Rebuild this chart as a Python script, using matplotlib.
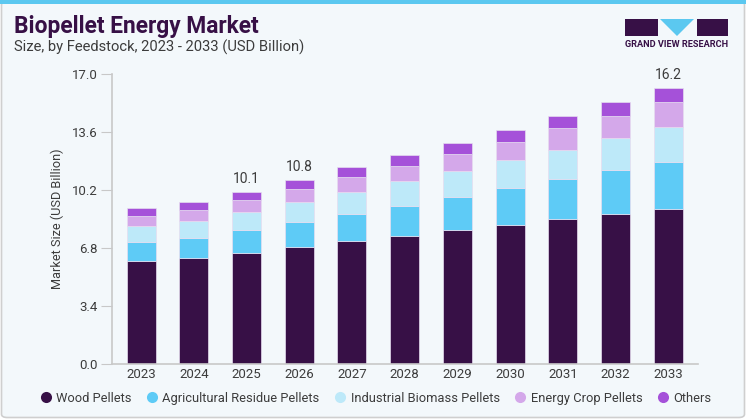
import numpy as np
import matplotlib.pyplot as plt
from matplotlib.patches import Rectangle, Polygon, FancyBboxPatch
from matplotlib.lines import Line2D

plt.rcParams['font.family'] = ['Roboto', 'DejaVu Sans']

# 数据
years = ['2023', '2024', '2025', '2026', '2027', '2028', '2029', '2030', '2031', '2032', '2033']
wood = [6.04, 6.20, 6.51, 6.84, 7.19, 7.53, 7.84, 8.17, 8.48, 8.81, 9.10]
agri = [1.11, 1.17, 1.33, 1.46, 1.62, 1.75, 1.94, 2.14, 2.34, 2.54, 2.77]
industrial = [0.96, 1.03, 1.07, 1.17, 1.27, 1.42, 1.52, 1.62, 1.75, 1.89, 2.01]
energy_crop = [0.59, 0.61, 0.70, 0.76, 0.87, 0.90, 1.02, 1.11, 1.25, 1.30, 1.46]
others = [0.44, 0.48, 0.49, 0.57, 0.57, 0.66, 0.65, 0.70, 0.74, 0.80, 0.84]
series_names = ['Wood Pellets', 'Agricultural Residue Pellets', 'Industrial Biomass Pellets',
                'Energy Crop Pellets', 'Others']
labelled = {'2025': '10.1', '2026': '10.8', '2033': '16.2'}
y_ticks = [0.0, 3.4, 6.8, 10.2, 13.6, 17.0]

colors = ['#371046', '#5ECBF6', '#BDE9F9', '#D4A8EA', '#A551D9']
bg = '#F3F8FB'
txt = '#3C3C3C'

W, H = 746, 419
fig = plt.figure(figsize=(W / 100, H / 100), dpi=100)
fig.patch.set_facecolor('white')


def px(x, y):
    # 像素坐标 -> figure 坐标
    return (x / W, 1 - y / H)


# 背景 + 边框
fig.patches.append(FancyBboxPatch((1.5 / W, 1.5 / H), (W - 3) / W, (H - 3) / H,
                                  boxstyle='round,pad=0,rounding_size=0.008',
                                  transform=fig.transFigure, facecolor=bg,
                                  edgecolor='#CFCFCF', linewidth=1.2, zorder=-10))
fig.patches.append(Rectangle((0, 1 - 4 / H), 1, 4 / H, transform=fig.transFigure,
                             facecolor='#5BC8F0', edgecolor='none', zorder=-9))

# 标题
fig.text(14 / W, 1 - 27 / H, 'Biopellet Energy Market', fontsize=16.4, fontweight='bold',
         color='#371046', va='center', ha='left')
fig.text(14 / W, 1 - 47 / H, 'Size, by Feedstock, 2023 - 2033 (USD Billion)', fontsize=10.6,
         color=txt, va='center', ha='left')

# logo
fig.patches.append(Rectangle(px(625, 36), 33 / W, 17 / H, transform=fig.transFigure,
                             facecolor='#371046', edgecolor='none'))
fig.patches.append(Rectangle(px(697, 36), 31 / W, 17 / H, transform=fig.transFigure,
                             facecolor='#371046', edgecolor='none'))
fig.patches.append(Polygon([px(660, 19), px(694, 19), px(677, 36)], closed=True,
                           transform=fig.transFigure, facecolor='#5BC8F0', edgecolor='none'))
fig.text(676.5 / W, 1 - 44.5 / H, 'GRAND VIEW RESEARCH', fontsize=6.6, fontweight='bold',
         color='#371046', ha='center', va='center')

# 图表区
ax = fig.add_axes([112 / W, 1 - 364 / H, (698 - 112) / W, (364 - 74) / H], zorder=2)
ax.set_facecolor('none')

x = np.arange(len(years))
bottom = np.zeros(len(years))
for name, vals, c in zip(series_names, [wood, agri, industrial, energy_crop, others], colors):
    ax.bar(x, vals, width=0.55, bottom=bottom, color=c, edgecolor='#E6DDF0',
           linewidth=0.5, label=name, zorder=2)
    bottom += np.array(vals)

for i, yr in enumerate(years):
    if yr in labelled:
        ax.annotate(labelled[yr], (x[i], bottom[i]), xytext=(0, 4), textcoords='offset points',
                    ha='center', va='bottom', fontsize=10, color=txt)

ax.set_xlim(-0.55, len(years) - 0.44)
ax.set_ylim(0, 17.0)
ax.set_xticks(x)
ax.set_xticklabels(years)
ax.set_yticks(y_ticks)
ax.set_yticklabels([f'{v:.1f}' for v in y_ticks])
ax.tick_params(axis='y', length=8, color='#C8C8C8', labelsize=9.5, labelcolor=txt, pad=2)
ax.tick_params(axis='x', length=0, labelsize=9.5, labelcolor=txt, pad=3)
for s in ['top', 'right']:
    ax.spines[s].set_visible(False)
for s in ['left', 'bottom']:
    ax.spines[s].set_color('#C8C8C8')
    ax.spines[s].set_linewidth(1.2)
ax.set_ylabel('Market Size (USD Billion)', fontsize=9.2, color=txt, labelpad=6)

# 圆形图例
handles = [Line2D([], [], marker='o', linestyle='none', markersize=8, markerfacecolor=c,
                  markeredgecolor='none') for c in colors]
fig.legend(handles, series_names, loc='center', bbox_to_anchor=px(376, 398),
           ncol=5, frameon=False, fontsize=9.3, labelcolor=txt, handlelength=0.8,
           handletextpad=0.4, columnspacing=1.2)

fig.savefig('out.png', dpi=100, facecolor=fig.get_facecolor())
